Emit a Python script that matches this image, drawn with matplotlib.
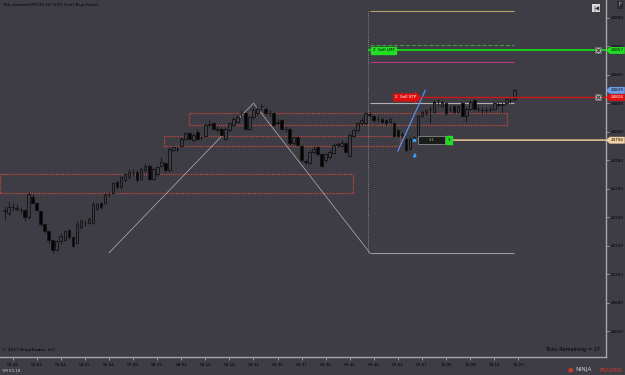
import matplotlib.pyplot as plt
from matplotlib.patches import Rectangle, Polygon

# candles, one per 233-tick bar
bar_open = [24744, 24743, 24747, 24746, 24745, 24745, 24740, 24754, 24750, 24744,
            24735, 24730, 24724, 24717, 24723, 24724, 24731, 24726, 24722, 24733,
            24736, 24736, 24736, 24746, 24750, 24750, 24756, 24757, 24765, 24761,
            24766, 24768, 24771, 24772, 24767, 24773, 24776, 24767, 24770, 24776,
            24778, 24773, 24787, 24788, 24790, 24795, 24799, 24794, 24800, 24796,
            24797, 24805, 24806, 24801, 24802, 24795, 24801, 24805, 24807, 24813,
            24813, 24802, 24810, 24813, 24818, 24816, 24813, 24813, 24806, 24808,
            24802, 24802, 24792, 24796, 24790, 24779, 24778, 24786, 24789, 24784,
            24780, 24782, 24785, 24791, 24790, 24792, 24783, 24797, 24801, 24806,
            24806, 24812, 24811, 24809, 24809, 24808, 24807, 24806, 24801, 24798,
            24795, 24788, 24794, 24797, 24811, 24813, 24816, 24814, 24822, 24818,
            24820, 24816, 24818, 24814, 24820, 24811, 24816, 24822, 24816, 24815,
            24815, 24816, 24816, 24819, 24819, 24820, 24822, 24823]
bar_close = [24745, 24747, 24747, 24746, 24745, 24740, 24756, 24750, 24745, 24735,
             24730, 24724, 24717, 24723, 24727, 24730, 24726, 24720, 24735, 24737,
             24736, 24739, 24749, 24749, 24747, 24756, 24756, 24764, 24761, 24768,
             24770, 24772, 24771, 24766, 24774, 24776, 24767, 24774, 24775, 24779,
             24773, 24788, 24789, 24788, 24795, 24799, 24795, 24798, 24795, 24796,
             24805, 24805, 24802, 24802, 24798, 24802, 24806, 24809, 24810, 24813,
             24802, 24810, 24815, 24816, 24818, 24813, 24813, 24805, 24807, 24802,
             24802, 24792, 24796, 24791, 24780, 24779, 24786, 24788, 24784, 24776,
             24784, 24786, 24791, 24791, 24792, 24786, 24798, 24801, 24806, 24808,
             24813, 24812, 24808, 24809, 24807, 24806, 24809, 24797, 24797, 24798,
             24787, 24795, 24796, 24811, 24814, 24815, 24816, 24821, 24822, 24821,
             24813, 24816, 24814, 24818, 24811, 24816, 24821, 24816, 24816, 24815,
             24815, 24816, 24820, 24819, 24819, 24823, 24822, 24829]
bar_high = [24748, 24751, 24750, 24749, 24747, 24746, 24758, 24756, 24751, 24745,
            24736, 24731, 24725, 24724, 24729, 24731, 24732, 24727, 24737, 24739,
            24738, 24740, 24751, 24750, 24751, 24757, 24758, 24765, 24766, 24769,
            24771, 24774, 24774, 24773, 24775, 24778, 24777, 24775, 24776, 24782,
            24779, 24789, 24790, 24790, 24796, 24800, 24800, 24799, 24802, 24798,
            24806, 24808, 24807, 24804, 24803, 24803, 24807, 24810, 24812, 24815,
            24814, 24811, 24817, 24818, 24820, 24817, 24815, 24814, 24809, 24809,
            24804, 24803, 24797, 24797, 24791, 24781, 24787, 24790, 24790, 24785,
            24785, 24787, 24792, 24793, 24794, 24793, 24799, 24802, 24807, 24810,
            24814, 24814, 24812, 24811, 24810, 24809, 24810, 24807, 24802, 24800,
            24796, 24796, 24797, 24812, 24815, 24816, 24818, 24822, 24823, 24822,
            24821, 24818, 24819, 24819, 24821, 24817, 24822, 24823, 24818, 24817,
            24817, 24818, 24821, 24821, 24821, 24824, 24824, 24830]
bar_low = [24738, 24741, 24744, 24744, 24743, 24737, 24739, 24749, 24744, 24734,
           24729, 24722, 24715, 24716, 24721, 24723, 24725, 24719, 24721, 24732,
           24734, 24735, 24735, 24745, 24746, 24749, 24754, 24756, 24760, 24760,
           24765, 24767, 24769, 24765, 24766, 24772, 24766, 24766, 24769, 24775,
           24772, 24772, 24786, 24786, 24789, 24794, 24794, 24793, 24794, 24794,
           24796, 24803, 24801, 24800, 24797, 24794, 24800, 24804, 24806, 24811,
           24801, 24801, 24809, 24812, 24815, 24812, 24811, 24804, 24805, 24801,
           24800, 24791, 24791, 24790, 24779, 24777, 24777, 24785, 24783, 24775,
           24779, 24781, 24784, 24789, 24789, 24785, 24782, 24796, 24800, 24805,
           24805, 24810, 24807, 24807, 24806, 24805, 24806, 24796, 24796, 24796,
           24786, 24787, 24793, 24796, 24810, 24812, 24806, 24813, 24818, 24817,
           24812, 24814, 24813, 24813, 24810, 24807, 24815, 24815, 24814, 24813,
           24813, 24814, 24815, 24817, 24813, 24819, 24820, 24822]

time_labels = ['00:58', '02:52', '03:54', '04:55', '06:04', '07:09', '08:25', '08:52',
               '09:10', '09:18', '09:32', '09:35', '09:37', '09:38', '09:42', '09:46',
               '09:52', '09:57', '10:05', '10:08', '10:15', '10:25']
time_tick_bars = [3, 9, 15, 21, 27, 33, 39, 45, 51, 57, 63, 69, 75, 81, 87, 93,
                  99, 105, 111, 117, 123, 129]
price_ticks = [24660, 24680, 24700, 24720, 24740, 24760, 24780, 24800, 24820, 24840,
               24860, 24880]

# zigzag and fib extension
zz_bars = [27, 63, 92]
zz_prices = [24715, 24820, 24715]
fib_prices = [24715, 24820, 24849, 24861, 24885]
fib_colors = ['#9a9a9a', '#b0b0b0', '#b03a86', '#3f9a3f', '#b4a46a']
fib_styles = ['-', '-', '-', '--', '-']

# red zones: start bar, end bar, low, high
zone_start = [46.9, 40.7, -0.2]
zone_end = [126.2, 99.5, 87.8]
zone_low = [24805, 24790, 24757]
zone_high = [24813, 24797, 24770]

# orders
lmt_price = 24857
stp_price = 24824
pos_price = 24794
last_price = 24829
pen_bars = [99, 105.8]
pen_prices = [24786.5, 24829]

bg = '#3e3d45'
fig = plt.figure(figsize=(6.25, 3.75), dpi=100, facecolor=bg)
ax = fig.add_axes([0, 18 / 375, 606 / 625, 357 / 375], facecolor=bg)
ax.set_xlim(-0.165, 150.85)
ax.set_ylim(24641.9, 24892.4)
for s in ['left', 'top']:
    ax.spines[s].set_visible(False)
for s in ['right', 'bottom']:
    ax.spines[s].set_color('#a6a6a6')
    ax.spines[s].set_linewidth(1.0)
ax.yaxis.tick_right()
ax.set_yticks(price_ticks)
ax.set_yticklabels([str(p) for p in price_ticks])
ax.set_xticks(time_tick_bars)
ax.set_xticklabels(time_labels)
ax.tick_params(axis='both', colors='#a6a6a6', labelcolor='black', labelsize=3.0,
               length=2, width=0.6, pad=1.2)
ax.tick_params(axis='x', pad=2.2)

# candles
xs = list(range(1, len(bar_open) + 1))
ax.vlines(xs, bar_low, bar_high, color='#111111', lw=0.6, zorder=3)
for x, o, c in zip(xs, bar_open, bar_close):
    up = c >= o
    ax.add_patch(Rectangle((x - 0.34, min(o, c)), 0.68, max(abs(c - o), 0.15),
                           facecolor=bg if up else '#050505',
                           edgecolor='#151515', lw=0.65, zorder=4))

# zones
for x0, x1, lo, hi in zip(zone_start, zone_end, zone_low, zone_high):
    ax.add_patch(Rectangle((x0, lo), x1 - x0, hi - lo, fill=False, edgecolor='#c0483a',
                           lw=0.9, ls=(0, (1, 0.8)), zorder=2))

# zigzag + fib
ax.plot(zz_bars, zz_prices, color='#b4b4b4', lw=0.5, zorder=2)
for p, c, ls in zip(fib_prices, fib_colors, fib_styles):
    ax.hlines(p, 92, 128, color=c, lw=0.8, ls=ls, zorder=2)
ax.vlines(91.6, fib_prices[0], fib_prices[-1] + 0.5, color='#9a9a9a', lw=0.6,
          ls=(0, (1, 1.5)), zorder=2)

# pen line and fill marker
ax.plot(pen_bars, pen_prices, color='#5b8fe6', lw=0.9, zorder=5)
ax.plot([103], [24794], marker='s', ms=2, color='#3aa0f0', zorder=6)
ax.annotate('', xy=(103.2, 24787), xytext=(103.2, 24782),
            arrowprops=dict(arrowstyle='-|>', color='#3aa0f0', lw=1.0,
                            mutation_scale=4), zorder=6)

# order lines
ax.hlines(lmt_price, 91.6, 150.85, color='#18d018', lw=1.4, zorder=6)
ax.hlines(stp_price, 104.7, 150.85, color='#e01010', lw=0.9, zorder=6)
ax.hlines(pos_price, 112.6, 150.85, color='#b89a72', lw=1.4, zorder=6)
ax.hlines(pos_price + 0.4, 112.6, 150.85, color='#e8d0a8', lw=0.4, zorder=7)
ax.text(95.5, lmt_price, '2  Sell LMT', fontsize=3.0, color='black', ha='center',
        va='center', zorder=8,
        bbox=dict(boxstyle='square,pad=0.35', fc='#22dd22', ec='#22dd22'))
ax.text(101.0, stp_price, '2  Sell STP', fontsize=3.0, color='white', ha='center',
        va='center', zorder=8,
        bbox=dict(boxstyle='rarrow,pad=0.35', fc='#e01010', ec='#e01010'))
ax.text(107.3, pos_price, '       31       ', fontsize=3.0, color='#5ad05a',
        ha='center', va='center', zorder=8,
        bbox=dict(boxstyle='square,pad=0.5', fc='#1c1c1c', ec='#8a8a8a', lw=0.6))
ax.text(111.7, pos_price, '3', fontsize=3.0, color='black', ha='center', va='center',
        zorder=9, bbox=dict(boxstyle='square,pad=0.45', fc='#22dd22', ec='#22dd22'))

# price axis flags
ytr = ax.get_yaxis_transform()
flags = [(lmt_price, '#22dd22', 'black'), (last_price, '#6f9ce8', 'black'),
         (stp_price, '#e01010', 'white'), (pos_price, '#f2d2a4', 'black')]
for p, fc, tc in flags:
    ax.add_patch(Polygon([(1.0, p), (1.006, p + 2.4), (1.031, p + 2.4),
                          (1.031, p - 2.4), (1.006, p - 2.4)], closed=True,
                         transform=ytr, facecolor=fc, edgecolor='none',
                         clip_on=False, zorder=10))
    ax.text(1.018, p, str(p), transform=ytr, fontsize=3.0, color=tc, ha='center',
            va='center', clip_on=False, zorder=11)
for p in [lmt_price, stp_price]:
    ax.plot([0.987], [p], transform=ytr, marker='s', ms=4, color='#b8b8b8',
            mec='#6a6a6a', mew=0.4, zorder=12, clip_on=False)
    ax.plot([0.987], [p], transform=ytr, marker='x', ms=2.6, color='#202020',
            mew=0.6, zorder=13, clip_on=False)

# texts
fig.text(2 / 625, 1 - 5 / 375, 'Tick counter(YM 03-18 (233 Tick),True,False)',
         fontsize=3.2, color='black', va='center')
fig.text(2 / 625, 1 - 350 / 375, '\u00a9 2017 NinjaTrader, LLC', fontsize=3.2,
         color='black', va='center')
fig.text(2 / 625, 1 - 371 / 375, 'YM 03-18', fontsize=2.8, color='#d0d0d0', va='center')
fig.text(600 / 625, 1 - 349 / 375, 'Ticks Remaining = 17', fontsize=3.6, color='black',
         va='center', ha='right')
fig.text(575 / 625, 1 - 370 / 375, 'NINJA', fontsize=4.2, color='#c8c8c8', va='center')
fig.text(598 / 625, 1 - 370 / 375, 'TRADER', fontsize=4.2, color='#d03a2a', va='center')
fig.text(570 / 625, 1 - 370 / 375, '\u25cf', fontsize=4.5, color='#d03a2a', va='center',
         ha='center')
fig.text(596 / 625, 1 - 8 / 375, '|\u25c0', fontsize=4, color='#303030', va='center',
         ha='center', bbox=dict(boxstyle='square,pad=0.2', fc='#d8d8d8', ec='none'))
fig.text(620 / 625, 1 - 5 / 375, 'F', fontsize=3.5, color='#c8c8c8', va='center',
         ha='center', bbox=dict(boxstyle='square,pad=0.25', fc='#2c2c30', ec='none'))

fig.savefig('out.png', dpi=100, facecolor=bg)
